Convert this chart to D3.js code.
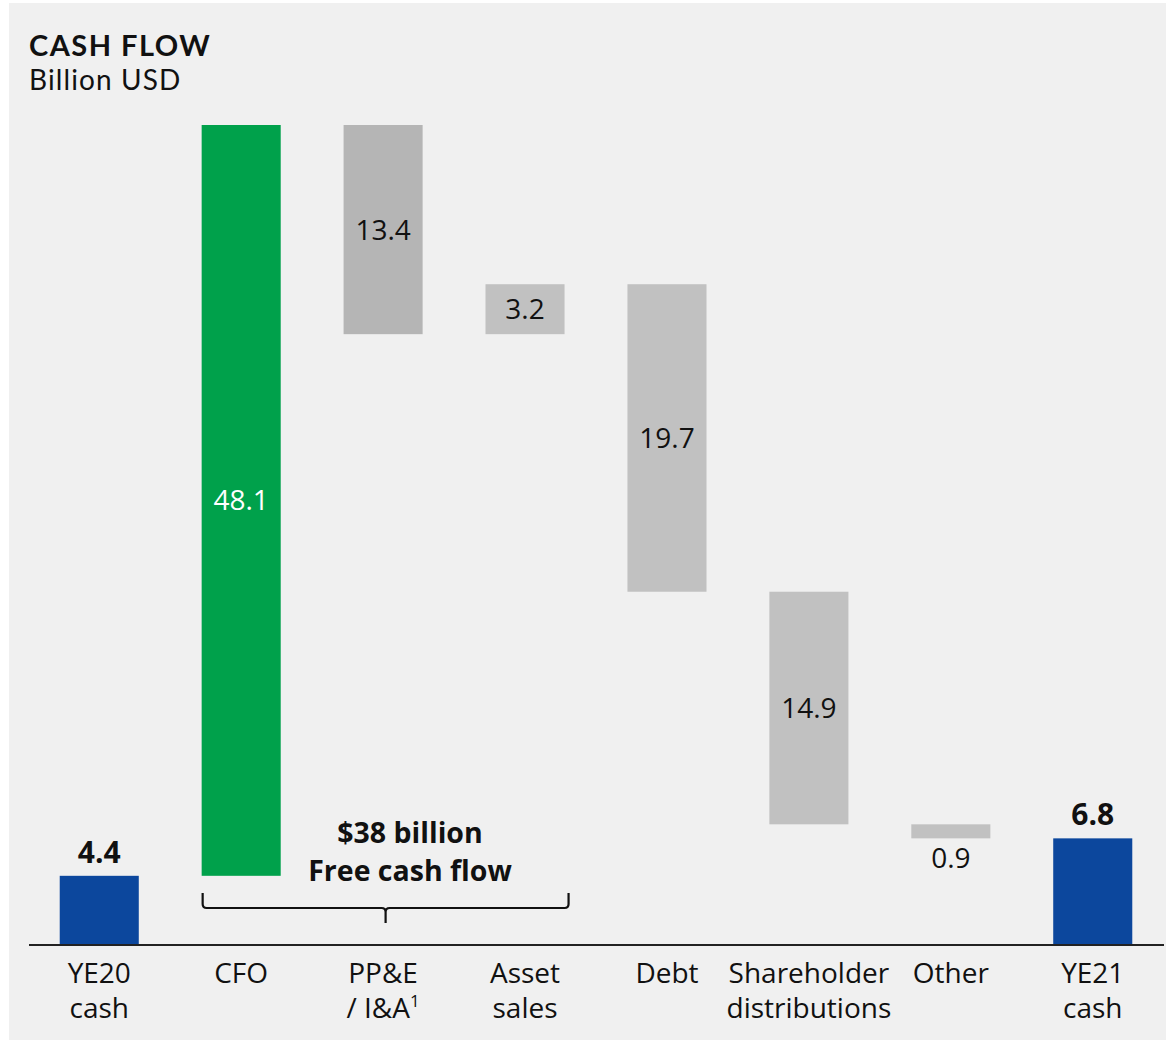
<!DOCTYPE html>
<html>
<head>
<meta charset="utf-8">
<script src="https://cdn.jsdelivr.net/npm/d3@7"></script>
<style>
  html, body { margin: 0; padding: 0; background: #ffffff; }
  svg { display: block; }
  text { font-family: "Open Sans", "DejaVu Sans", sans-serif; fill: #111; }
  text.head { font-family: Lato, "Open Sans", sans-serif; }
</style>
</head>
<body>
<svg id="chart" width="1168" height="1042"></svg>
<script>
// Cash flow bridge, billion USD
const categories = ["YE20 cash", "CFO", "PP&E / I&A", "Asset sales", "Debt", "Shareholder distributions", "Other", "YE21 cash"];
const labelLines = [["YE20", "cash"], ["CFO"], ["PP&E", "/ I&A"], ["Asset", "sales"], ["Debt"], ["Shareholder", "distributions"], ["Other"], ["YE21", "cash"]];
const values = [4.4, 48.1, -13.4, 3.2, -19.7, -14.9, -0.9, 6.8];
const kinds = ["total", "inflow", "outflow", "step", "step", "step", "step", "total"];
const valueLabels = ["4.4", "48.1", "13.4", "3.2", "19.7", "14.9", "0.9", "6.8"];
const fcfLines = ["$38 billion", "Free cash flow"];

const colors = { total: "#0c479d", inflow: "#00a14b", outflow: "#b5b5b5", step: "#c1c1c1" };

// running totals -> start/end for each bar
let running = 0;
const bars = categories.map((c, i) => {
  let y0, y1;
  if (kinds[i] === "total") { y0 = 0; y1 = values[i]; running = values[i]; }
  else { y0 = running; y1 = running + values[i]; running = y1; }
  return { cat: c, lines: labelLines[i], kind: kinds[i], y0, y1, label: valueLabels[i], value: values[i] };
});

const svg = d3.select("#chart");
svg.append("rect").attr("x", 9).attr("y", 3).attr("width", 1157).attr("height", 1037).attr("fill", "#f0f0f0");

const x = d3.scaleBand().domain(categories).range([28.5, 1163.5]).paddingInner(0.443).paddingOuter(0.22);
const y = d3.scaleLinear().domain([0, 52.5]).range([944.5, 125]);

// title
svg.append("text").attr("class", "head").attr("x", 29).attr("y", 56).attr("font-size", 29).attr("font-weight", 700)
  .attr("letter-spacing", 1.5).text("CASH FLOW");
svg.append("text").attr("class", "head").attr("x", 29).attr("y", 90).attr("font-size", 28).attr("font-weight", 400)
  .attr("letter-spacing", 1.1).text("Billion USD");

// bars
svg.selectAll("rect.bar").data(bars).join("rect").attr("class", "bar")
  .attr("x", d => x(d.cat))
  .attr("width", x.bandwidth())
  .attr("y", d => y(Math.max(d.y0, d.y1)))
  .attr("height", d => Math.abs(y(d.y0) - y(d.y1)))
  .attr("fill", d => colors[d.kind]);

// value labels
const cx = d => x(d.cat) + x.bandwidth() / 2;
svg.selectAll("text.val").data(bars).join("text").attr("class", "val")
  .attr("x", cx)
  .attr("text-anchor", "middle")
  .attr("font-size", d => d.kind === "total" ? 30 : 28)
  .attr("font-weight", d => d.kind === "total" ? 700 : 400)
  .style("fill", d => d.kind === "inflow" ? "#ffffff" : "#111")
  .attr("y", d => {
    const top = y(Math.max(d.y0, d.y1)), bot = y(Math.min(d.y0, d.y1));
    if (d.kind === "total") return top - 13;
    if (bot - top < 30) return bot + 30;
    return (top + bot) / 2 + 10;
  })
  .text(d => d.label);

// axis baseline
const axis = d3.axisBottom(x).tickSize(0).tickFormat("");
const gAxis = svg.append("g").attr("transform", `translate(0,${y(0)})`).call(axis);
gAxis.select(".domain").attr("stroke", "#222").attr("stroke-width", 2);

// category labels
const catText = svg.selectAll("text.cat").data(bars).join("text").attr("class", "cat")
  .attr("text-anchor", "middle").attr("font-size", 28).attr("font-weight", 400)
  .attr("x", cx).attr("y", 983);
catText.each(function (d) {
  const t = d3.select(this);
  d.lines.forEach((ln, i) => {
    t.append("tspan").attr("x", cx(d)).attr("dy", i === 0 ? 0 : 35).text(ln);
    if (d.cat === "PP&E / I&A" && i === 1) {
      t.append("tspan").attr("font-size", 17).attr("dy", -11).text("1");
    }
  });
});

// free cash flow brace over CFO .. Asset sales
const bx0 = x("CFO") + 1, bx1 = x("Asset sales") + x.bandwidth() + 4;
const by = 908, bmid = (bx0 + bx1) / 2;
svg.append("path")
  .attr("d", `M${bx0},893 L${bx0},${by - 4} Q${bx0},${by} ${bx0 + 4},${by} L${bmid - 4},${by} Q${bmid},${by} ${bmid},${by + 4} L${bmid},${by + 15} M${bmid},${by + 4} Q${bmid},${by} ${bmid + 4},${by} L${bx1 - 4},${by} Q${bx1},${by} ${bx1},${by - 4} L${bx1},893`)
  .attr("fill", "none").attr("stroke", "#111").attr("stroke-width", 2.2);

svg.selectAll("text.fcf").data(fcfLines).join("text").attr("class", "fcf")
  .attr("x", 410).attr("y", (d, i) => 843 + i * 38)
  .attr("text-anchor", "middle").attr("font-size", 28.5).attr("font-weight", 700)
  .text(d => d);
</script>
</body>
</html>
